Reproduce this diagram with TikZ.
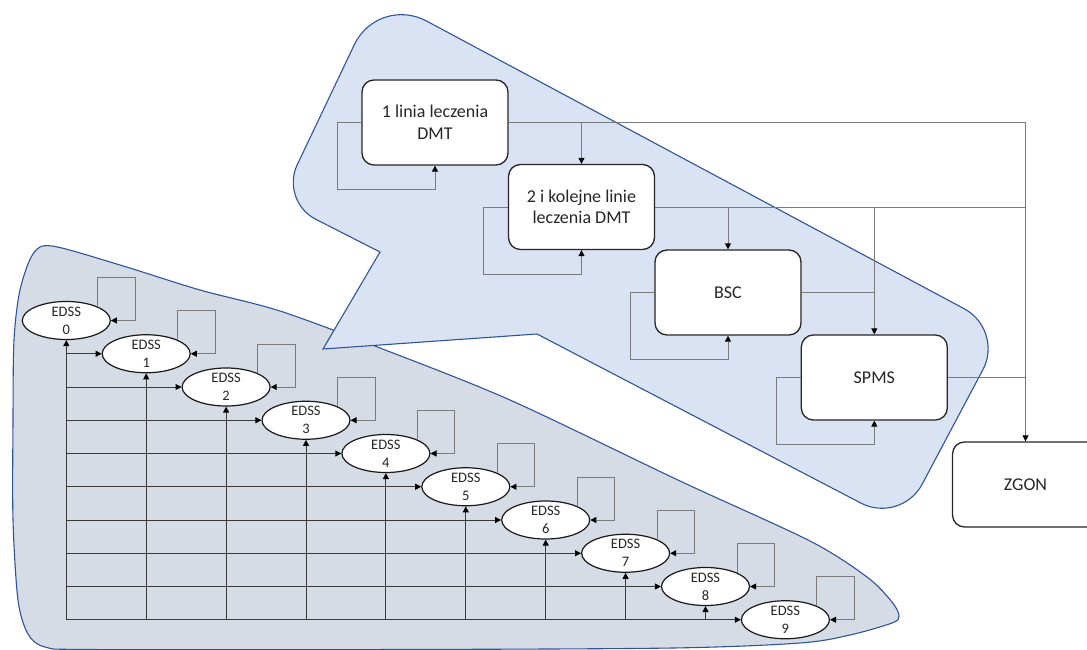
\documentclass[tikz,border=0pt]{standalone}
\usepackage{fontspec}
\setmainfont{Carlito}
\usetikzlibrary{shapes.geometric,arrows.meta}
\definecolor{calloutfill}{HTML}{DAE3F3}
\definecolor{grayfill}{HTML}{D6DCE5}
\definecolor{outlinec}{HTML}{2F5597}
\definecolor{connc}{HTML}{7A7A7A}
\definecolor{gridc}{HTML}{3A3A3A}
\definecolor{txtc}{HTML}{262626}
\begin{document}
\begin{tikzpicture}[x=1pt,y=-1pt,
  shapeline/.style={draw=outlinec, line width=1.1pt},
  box/.style={draw=txtc, line width=1.3pt, fill=white, rounded corners=12pt,
    minimum width=146pt, minimum height=85pt, align=center, inner sep=2pt,
    font=\fontsize{18pt}{21.5pt}\selectfont, text=txtc},
  ell/.style={ellipse, draw=black!90, line width=1.2pt, fill=white,
    minimum width=88pt, minimum height=38pt, inner sep=0pt},
  elabel/.style={font=\fontsize{14.5pt}{18pt}\selectfont, text=txtc, align=center, inner sep=0pt},
  conn/.style={draw=connc, line width=1pt},
  gridl/.style={draw=gridc, line width=1pt},
  arr/.style={-{Triangle[length=6pt,width=6pt,color=black]}}
]
\useasboundingbox (0,0) rectangle (1087,650);

% grey background shape
\draw[shapeline, fill=grayfill] plot[smooth cycle, tension=0.5] coordinates {
  (13,420) (14,340) (20,290) (33,254) (52,246) (120,265) (200,290) (280,311)
  (380,348) (510,400) (680,481) (810,541) (867,577) (892,602) (899,616)
  (892,623) (850,635) (800,643) (673,648) (400,649.5) (90,649.5) (45,647)
  (28,634) (18,600) (13,520)};

% blue callout
\draw[shapeline, fill=calloutfill]
  (537,334) -- (323,349) -- (380,252) -- (315.6,219.2)
  .. controls (296.0,209.2) and (287.7,184.7) .. (297.2,164.8)
  -- (354.3,44.7)
  .. controls (367.3,17.4) and (399.8,6.7) .. (426.5,21.0)
  -- (964.3,308.8)
  .. controls (986.1,320.5) and (994.5,347.9) .. (982.9,369.7)
  -- (922.1,484.3)
  .. controls (910.5,506.2) and (883.1,514.6) .. (861.1,503.2)
  -- cycle;

% EDSS states
\foreach \i in {0,...,9}{
  \node[ell, label={[elabel]center:EDSS\\\i}] (e\i) at ({66.3+79.9*\i},{320.5+33.25*\i}) {};
}
\coordinate (c0) at (e0 |- e9);
\draw[gridl, arr] (c0) -- (e0.south);
\foreach \i in {1,...,9}{
  \draw[gridl, arr] (c0 |- e\i) -- (e\i.west);
}
\foreach \i in {1,...,8}{
  \draw[gridl, arr] (c0 -| e\i) -- (e\i.south);
}
\foreach \i in {0,...,9}{
  \draw[conn, arr] (e\i.north east) |- ([shift={(69pt,43pt)}]e\i.center)
    -- ([xshift=69pt]e\i.center) -- (e\i.east);
}

% treatment boxes
\node[box] (b1) at (435,122.5) {1 linia leczenia\\DMT};
\node[box] (b2) at (581.5,207) {2 i kolejne linie\\leczenia DMT};
\node[box] (bsc) at (728,292.5) {BSC};
\node[box] (spms) at (874.3,377.5) {SPMS};
\node[box] (zg) at (1025.5,484.5) {ZGON};

\draw[conn, arr] (b1.east) -| (zg.north);
\draw[conn, arr] (b1.east -| b2.north) -- (b2.north);
\draw[conn] (b2.east) -- (b2.east -| zg.north);
\draw[conn, arr] (b2.east -| bsc.north) -- (bsc.north);
\draw[conn, arr] (b2.east -| spms.north) -- (spms.north);
\draw[conn] (bsc.east) -- (bsc.east -| spms.north);
\draw[conn] (spms.east) -- (spms.east -| zg.north);
\foreach \n in {b1,b2,bsc,spms}{
  \draw[conn, arr] (\n.west) -- ++(-24pt,0pt) |- ([yshift=-24pt]\n.south) -- (\n.south);
}
\end{tikzpicture}
\end{document}
